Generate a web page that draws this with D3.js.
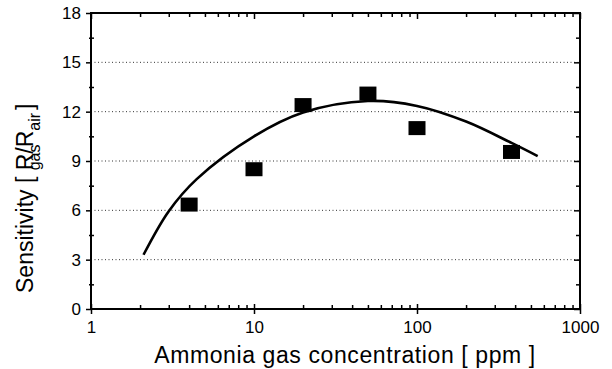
<!DOCTYPE html>
<html><head><meta charset="utf-8">
<script src="https://cdn.jsdelivr.net/npm/d3@7"></script>
<style>
html,body{margin:0;padding:0;background:#fff;}
svg{display:block;font-family:"Liberation Sans",Arial,sans-serif;}
</style></head>
<body>
<svg id="c" width="612" height="369"></svg>
<script>
// Data
const concentration = [4, 10, 20, 50, 100, 380];
const sensitivity = [6.35, 8.5, 12.4, 13.1, 11.0, 9.55];
const fitX = [2.1, 3.0, 4.45, 10, 20, 50, 100, 200, 380, 550];
const fitY = [3.3, 5.95, 7.9, 10.5, 11.95, 12.65, 12.35, 11.4, 10.1, 9.3];
const xTicks = [1, 10, 100, 1000];
const xMinor = [2,3,4,5,6,7,8,9,20,30,40,50,60,70,80,90,200,300,400,500,600,700,800,900];
const yTicks = [0, 3, 6, 9, 12, 15, 18];
const yMinor = [1.5, 4.5, 7.5, 10.5, 13.5, 16.5];
const yGrid = [3, 6, 9, 12, 15];

const svg = d3.select("#c");
const L = 91, R = 580, T = 13, B = 309;
const x = d3.scaleLog().domain([1, 1000]).range([L, R]);
const y = d3.scaleLinear().domain([0, 18]).range([B, T]);

// grid
svg.append("g").selectAll("line").data(yGrid).join("line")
  .attr("x1", L).attr("x2", R).attr("y1", d => y(d)).attr("y2", d => y(d))
  .attr("stroke", "#333").attr("stroke-width", 1).attr("stroke-dasharray", "1,2.5");

function styleAxis(g){
  g.select(".domain").remove();
  g.selectAll(".tick line").attr("stroke","#000").attr("stroke-width",1.5);
  g.selectAll("text").attr("fill","#000").style("font-size","17px").style("font-family","'Liberation Sans',Arial,sans-serif");
}
// bottom axis
svg.append("g").attr("transform",`translate(0,${B})`)
  .call(d3.axisBottom(x).tickValues(xTicks).tickFormat(d3.format("d")).tickSize(5).tickPadding(7)).call(styleAxis);
svg.append("g").attr("transform",`translate(0,${B})`)
  .call(d3.axisTop(x).tickValues(xMinor).tickFormat("").tickSize(4)).call(styleAxis);
svg.append("g").attr("transform",`translate(0,${B})`)
  .call(d3.axisTop(x).tickValues(xTicks).tickFormat("").tickSize(5)).call(styleAxis);
// top axis
svg.append("g").attr("transform",`translate(0,${T})`)
  .call(d3.axisBottom(x).tickValues(xMinor).tickFormat("").tickSize(4)).call(styleAxis);
svg.append("g").attr("transform",`translate(0,${T})`)
  .call(d3.axisBottom(x).tickValues(xTicks).tickFormat("").tickSize(6)).call(styleAxis);
// left axis
svg.append("g").attr("transform",`translate(${L},0)`)
  .call(d3.axisLeft(y).tickValues(yTicks).tickSize(5).tickPadding(5)).call(styleAxis);
svg.append("g").attr("transform",`translate(${L},0)`)
  .call(d3.axisRight(y).tickValues(yMinor).tickFormat("").tickSize(3)).call(styleAxis);
svg.append("g").attr("transform",`translate(${L},0)`)
  .call(d3.axisLeft(y).tickValues(yMinor).tickFormat("").tickSize(2)).call(styleAxis);
// right axis
svg.append("g").attr("transform",`translate(${R},0)`)
  .call(d3.axisLeft(y).tickValues(yTicks).tickFormat("").tickSize(6)).call(styleAxis);
svg.append("g").attr("transform",`translate(${R},0)`)
  .call(d3.axisLeft(y).tickValues(yMinor).tickFormat("").tickSize(4)).call(styleAxis);

// frame
svg.append("rect").attr("x",L).attr("y",T).attr("width",R-L).attr("height",B-T)
  .attr("fill","none").attr("stroke","#000").attr("stroke-width",2);

// fit curve
const line = d3.line().x(d => x(d[0])).y(d => y(d[1])).curve(d3.curveCatmullRom.alpha(0.5));
svg.append("path").datum(fitX.map((v,i)=>[v,fitY[i]])).attr("d",line)
  .attr("fill","none").attr("stroke","#000").attr("stroke-width",2.6);

// markers
svg.append("g").selectAll("rect").data(concentration.map((v,i)=>[v,sensitivity[i]])).join("rect")
  .attr("x", d => x(d[0]) - 8.5).attr("y", d => y(d[1]) - 7)
  .attr("width", 17).attr("height", 14).attr("fill","#000");

// x title
svg.append("text").attr("x", 345).attr("y", 363).attr("text-anchor","middle")
  .style("font-size","23px").style("letter-spacing","0.6px").attr("fill","#000")
  .text("Ammonia gas concentration [ ppm ]");

// y title
const yt = svg.append("text").attr("transform","translate(33,293) rotate(-90)")
  .attr("x",0).attr("y",0).style("font-size","23px").attr("fill","#000");
yt.append("tspan").text("Sensitivity [ ");
const t1 = yt.append("tspan").text("R/");
const wR = t1.node().getComputedTextLength();
const t2 = yt.append("tspan").attr("dx", -wR).attr("dy", 7).style("font-size","16px").text("gas");
const wg = t2.node().getComputedTextLength();
yt.append("tspan").attr("dx", wR - wg).attr("dy", -7).text("R");
yt.append("tspan").attr("dy", 7).style("font-size","16px").text("air");
yt.append("tspan").attr("dy", -7).attr("dx", 3).text("]");
</script>
</body></html>
